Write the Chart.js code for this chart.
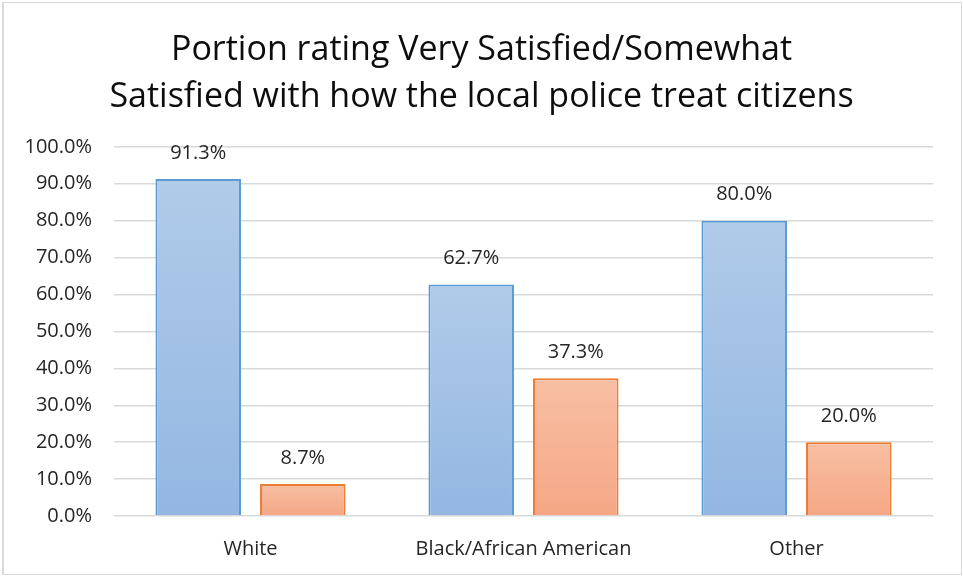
<!DOCTYPE html>
<html>
<head>
<meta charset="utf-8">
<script src="https://cdn.jsdelivr.net/npm/chart.js@4"></script>
<style>
  html, body { margin: 0; padding: 0; background: #fff; }
  #wrap { position: relative; width: 963px; height: 577px; }
</style>
</head>
<body>
<div id="wrap"><canvas id="chart" width="963" height="577"></canvas></div>
<script>
const categories = ['White', 'Black/African American', 'Other'];
const satisfied = [91.3, 62.7, 80.0];
const notSatisfied = [8.7, 37.3, 20.0];
const yTicks = [0, 10, 20, 30, 40, 50, 60, 70, 80, 90, 100];

const FONT = "'Open Sans', 'Noto Sans', sans-serif";

// per-bar vertical gradient, like the Excel fill
const barGradient = (top, bottom) => ctx => {
    const chart = ctx.chart;
    const y = chart.scales.y;
    if (!chart.chartArea || !y || ctx.raw === undefined) return bottom;
    const yTop = y.getPixelForValue(ctx.raw);
    const yBase = y.getPixelForValue(0);
    if (!isFinite(yTop) || !isFinite(yBase) || yTop === yBase) return bottom;
    const g = chart.ctx.createLinearGradient(0, yTop, 0, yBase);
    g.addColorStop(0, top);
    g.addColorStop(1, bottom);
    return g;
};

const valueLabels = {
    id: 'valueLabels',
    afterDatasetsDraw(chart) {
        const { ctx } = chart;
        ctx.save();
        ctx.font = `20px ${FONT}`;
        ctx.fillStyle = '#262626';
        ctx.textAlign = 'center';
        ctx.textBaseline = 'middle';
        chart.data.datasets.forEach((ds, i) => {
            chart.getDatasetMeta(i).data.forEach((bar, j) => {
                ctx.fillText(ds.data[j].toFixed(1) + '%', bar.x, bar.y - 26);
            });
        });
        ctx.restore();
    }
};

const frame = {
    id: 'frame',
    afterDraw(chart) {
        const { ctx } = chart;
        ctx.save();
        ctx.strokeStyle = '#d9d9d9';
        ctx.lineWidth = 1;
        ctx.strokeRect(2.5, 2.5, 959, 572);
        ctx.fillStyle = '#d9d9d9';
        ctx.fillRect(2, 2, 2, 573);
        ctx.restore();
    }
};

new Chart(document.getElementById('chart'), {
    type: 'bar',
    data: {
        labels: categories,
        datasets: [
            { label: 'Very/Somewhat Satisfied', data: satisfied, backgroundColor: barGradient('#b1cbe9', '#93b7e2'), borderColor: '#5b9bd5', borderWidth: 2 },
            { label: 'Other', data: notSatisfied, backgroundColor: barGradient('#f8bfa4', '#f5a785'), borderColor: '#ed7d31', borderWidth: 2 }
        ]
    },
    options: {
        responsive: false,
        animation: false,
        devicePixelRatio: 1,
        categoryPercentage: 0.766,
        barPercentage: 0.818,
        layout: { padding: 0 },
        plugins: {
            legend: { display: false },
            tooltip: { enabled: false },
            title: {
                display: true,
                text: ['Portion rating Very Satisfied/Somewhat', 'Satisfied with how the local police treat citizens'],
                color: '#0d0d0d',
                font: { family: FONT, size: 34, weight: 'normal', lineHeight: 1.38 },
                padding: { top: 27, bottom: 26 }
            }
        },
        scales: {
            x: {
                grid: { display: false },
                border: { display: false },
                ticks: { color: '#262626', font: { family: FONT, size: 20 }, padding: 13 },
                afterFit: s => { s.height = 61; }
            },
            y: {
                min: 0,
                max: 100,
                afterBuildTicks: s => { s.ticks = yTicks.map(v => ({ value: v })); },
                grid: { color: '#d9d9d9', lineWidth: 1.5, drawTicks: false },
                border: { display: false },
                ticks: {
                    color: '#262626',
                    font: { family: FONT, size: 20 },
                    padding: 22,
                    callback: v => v.toFixed(1) + '%'
                },
                afterFit: s => { s.width = 114; }
            },
            // empty right-hand spacer so the title stays centred on the whole canvas
            spacer: {
                type: 'linear',
                position: 'right',
                display: true,
                grid: { display: false },
                border: { display: false },
                ticks: { display: false },
                afterFit: s => { s.width = 30; }
            }
        }
    },
    plugins: [valueLabels, frame]
});
</script>
</body>
</html>
